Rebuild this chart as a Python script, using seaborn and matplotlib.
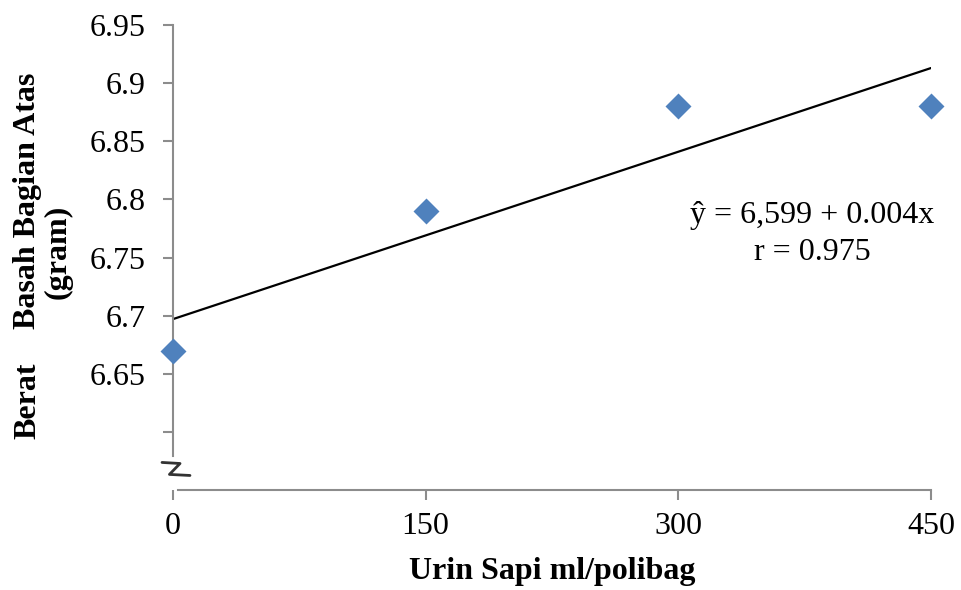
import matplotlib
matplotlib.use("Agg")
import matplotlib.pyplot as plt
import numpy as np
import pandas as pd
import seaborn as sns

sns.set_theme(style="white")
plt.rcParams["font.family"] = ["Liberation Serif", "DejaVu Serif"]
plt.rcParams["text.color"] = "black"
plt.rcParams["xtick.labelcolor"] = "black"
plt.rcParams["ytick.labelcolor"] = "black"

# data
dose = [0, 150, 300, 450]
weight = [6.67, 6.79, 6.88, 6.88]
x_ticks = [0, 150, 300, 450]
y_ticks = [6.6, 6.65, 6.7, 6.75, 6.8, 6.85, 6.9, 6.95]
y_labels = ["", "6.65", "6.7", "6.75", "6.8", "6.85", "6.9", "6.95"]
equation = "ŷ = 6,599 + 0.004x"
r_text = "r = 0.975"

df = pd.DataFrame({"dose": dose, "weight": weight})

fig = plt.figure(figsize=(9.62, 5.9), dpi=100)
ax = fig.add_axes([0.1798, 0.1695, 0.9678 - 0.1798, 0.9576 - 0.1695])

sns.regplot(
    data=df, x="dose", y="weight", ci=None, truncate=True, ax=ax,
    marker="D",
    scatter_kws={"s": 175, "color": "#4F81BD", "alpha": 1, "zorder": 3,
                 "clip_on": False, "linewidths": 0},
    line_kws={"color": "black", "linewidth": 1.6, "zorder": 2},
)

ax.set_xlim(0, 450)
ax.set_ylim(6.55, 6.95)
ax.set_xticks(x_ticks)
ax.set_xticklabels([str(v) for v in x_ticks])
ax.set_yticks(y_ticks)
ax.set_yticklabels(y_labels)

grey = "#8c8c8c"
for side in ["top", "right"]:
    ax.spines[side].set_visible(False)
ax.spines["left"].set_color(grey)
ax.spines["bottom"].set_color(grey)
ax.spines["left"].set_linewidth(1.5)
ax.spines["bottom"].set_linewidth(1.5)
ax.spines["left"].set_bounds(6.579, 6.95)
ax.spines["bottom"].set_bounds(3, 450)

ax.tick_params(axis="y", direction="out", length=7, width=1.5, color=grey,
               labelsize=23, pad=13, left=True)
ax.tick_params(axis="x", direction="out", length=7, width=1.5, color=grey,
               labelsize=23, pad=9, bottom=True)

# axis break mark
ax.plot([-6.5, 4.2, -2.1, 10.1], [6.5737, 6.5728, 6.5634, 6.5625],
        color="#333333", linewidth=2, clip_on=False, zorder=4)

ax.set_xlabel("")
ax.set_ylabel("")

fig.text(552 / 962, 1 - 579 / 590, "Urin Sapi ml/polibag", fontsize=23,
         fontweight="bold", ha="center", va="baseline")

fig.text(28 / 962, 1 - 401 / 590, "Berat", rotation=90, fontsize=23,
         fontweight="bold", ha="center", va="center")
fig.text(28 / 962, 1 - 201 / 590, "Basah Bagian Atas", rotation=90,
         fontsize=23, fontweight="bold", ha="center", va="center")
fig.text(58 / 962, 1 - 252 / 590, "(gram)", rotation=90, fontsize=23,
         fontweight="bold", ha="center", va="center")

ax.text(0.843, 0.591, equation, transform=ax.transAxes, fontsize=23,
        ha="center", va="center")
ax.text(0.843, 0.51, r_text, transform=ax.transAxes, fontsize=23,
        ha="center", va="center")

fig.savefig("out.png", dpi=100)
